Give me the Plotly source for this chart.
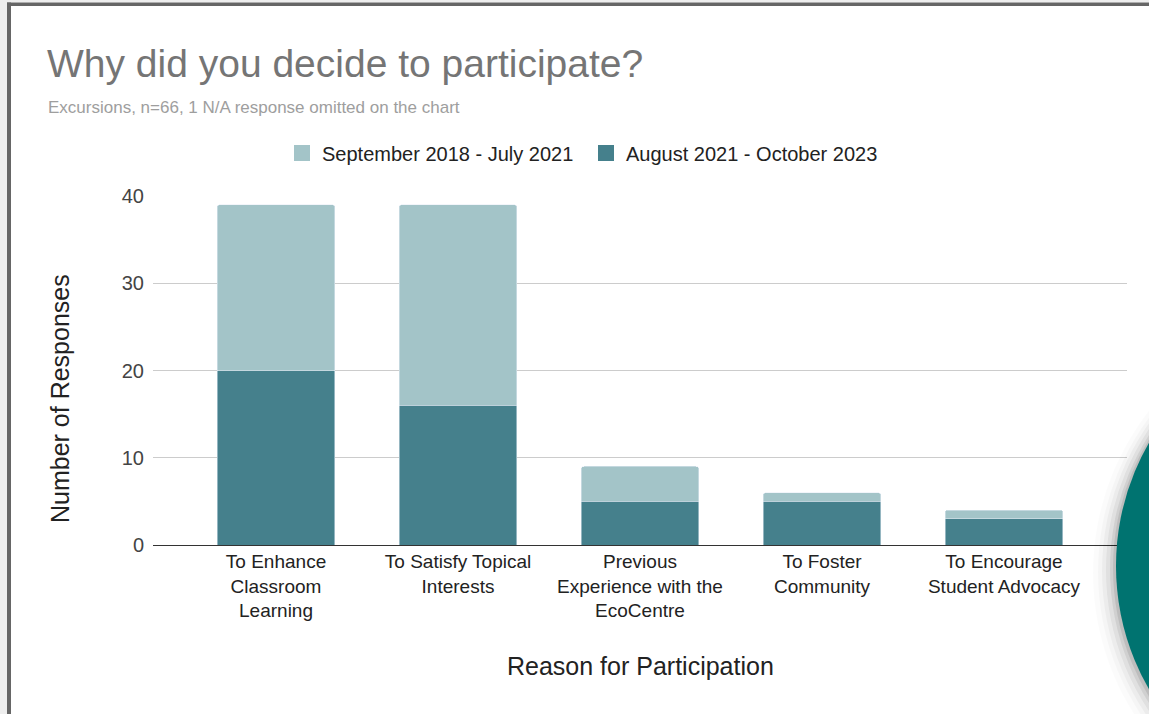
import plotly.graph_objects as go

# ---- data ----
categories = [
    "To Enhance<br>Classroom<br>Learning",
    "To Satisfy Topical<br>Interests",
    "Previous<br>Experience with the<br>EcoCentre",
    "To Foster<br>Community",
    "To Encourage<br>Student Advocacy",
]
series_names = ["September 2018 - July 2021", "August 2021 - October 2023"]
early_values = [19, 23, 4, 1, 1]   # September 2018 - July 2021 (top segment)
late_values = [20, 16, 5, 5, 3]    # August 2021 - October 2023 (bottom segment)
y_ticks = [0, 10, 20, 30, 40]

LIGHT = "#a3c4c8"
DARK = "#45808c"
FONT = "Liberation Sans, Arial, sans-serif"

W, H = 1149, 714
L, R, T, B = 153, 22, 196, 169
PW, PH = W - L - R, H - T - B


def px(x):
    return (x - L) / PW


def py(y):
    return 1 - (y - T) / PH


fig = go.Figure()
fig.add_trace(go.Bar(x=categories, y=late_values, name=series_names[1],
                     marker_color=DARK, showlegend=False, width=0.648))
fig.add_trace(go.Bar(x=categories, y=early_values, name=series_names[0],
                     marker_color=LIGHT, showlegend=False, width=0.648))
# legend proxies
for name, col in [(series_names[0], LIGHT), (series_names[1], DARK)]:
    fig.add_trace(go.Scatter(x=[None], y=[None], mode="markers", name=name,
                             marker=dict(symbol="square", size=17, color=col),
                             showlegend=True))

shapes = []
# outer light margin and dark frame
shapes.append(dict(type="rect", xref="paper", yref="paper", x0=px(0), x1=px(7),
                   y0=py(H), y1=py(0), fillcolor="#eeeeee", line_width=0, layer="below"))
shapes.append(dict(type="rect", xref="paper", yref="paper", x0=px(0), x1=px(W),
                   y0=py(2.5), y1=py(0), fillcolor="#eeeeee", line_width=0, layer="below"))
shapes.append(dict(type="rect", xref="paper", yref="paper", x0=px(7), x1=px(11),
                   y0=py(H), y1=py(2.5), fillcolor="#666666", line_width=0, layer="below"))
shapes.append(dict(type="rect", xref="paper", yref="paper", x0=px(7), x1=px(W),
                   y0=py(6), y1=py(2.5), fillcolor="#666666", line_width=0, layer="below"))

# decorative teal circle with soft shadow
cx, cy, r = 1363, 566, 247
for grow, dx, dy, op in [(16, -7, 7, 0.015), (12, -6, 6, 0.025), (9, -5, 5, 0.035),
                         (6, -4, 4, 0.05), (3, -3, 3, 0.07), (1, -2, 2, 0.09)]:
    rr = r + grow
    shapes.append(dict(type="circle", xref="paper", yref="paper",
                       x0=px(cx + dx - rr), x1=px(cx + dx + rr),
                       y0=py(cy + dy + rr), y1=py(cy + dy - rr),
                       fillcolor=f"rgba(0,0,0,{op})", line_width=0))
shapes.append(dict(type="circle", xref="paper", yref="paper",
                   x0=px(cx - r), x1=px(cx + r), y0=py(cy + r), y1=py(cy - r),
                   fillcolor="#007370", line_width=0))

annotations = [
    dict(text="Why did you decide to participate?", xref="paper", yref="paper",
         x=px(45), y=py(63), xanchor="left", yanchor="middle", showarrow=False,
         font=dict(family=FONT, size=39, color="#757575")),
    dict(text="Excursions, n=66, 1 N/A response omitted on the chart", xref="paper", yref="paper",
         x=px(46), y=py(107), xanchor="left", yanchor="middle", showarrow=False,
         font=dict(family=FONT, size=17, color="#9e9e9e")),
    dict(text="Number of Responses", xref="paper", yref="paper",
         x=px(60), y=py(399), xanchor="center", yanchor="middle", showarrow=False,
         textangle=-90, font=dict(family=FONT, size=25, color="#222222")),
    dict(text="Reason for Participation", xref="paper", yref="paper",
         x=px(640), y=py(666), xanchor="center", yanchor="middle", showarrow=False,
         font=dict(family=FONT, size=25, color="#222222")),
]

fig.update_layout(
    width=W, height=H,
    margin=dict(l=L, r=R, t=T, b=B, autoexpand=False),
    paper_bgcolor="white", plot_bgcolor="white",
    barmode="stack", barcornerradius=3,
    font=dict(family=FONT, color="#222222"),
    showlegend=True,
    legend=dict(orientation="h", x=px(586), xanchor="center", y=py(153), yanchor="middle",
                font=dict(family=FONT, size=20, color="#222222"), traceorder="normal",
                bgcolor="rgba(0,0,0,0)", entrywidth=259, entrywidthmode="pixels"),
    xaxis=dict(range=[-0.676, 4.676], showgrid=False, showline=False, zeroline=False,
               ticks="", tickfont=dict(family=FONT, size=19, color="#222222"),
               ticklabelstandoff=3, fixedrange=True),
    yaxis=dict(range=[0, 40], tickvals=y_ticks, showgrid=True, gridcolor="#cccccc",
               gridwidth=1, zeroline=True, zerolinecolor="#333333", zerolinewidth=1,
               showline=False, ticks="", tickfont=dict(family=FONT, size=20, color="#444444"),
               ticklabelstandoff=8, fixedrange=True),
    shapes=shapes,
    annotations=annotations,
)

fig.write_html("out.html", config={"displayModeBar": False},
               post_script="document.body.style.margin='0';document.body.style.overflow='hidden';")
